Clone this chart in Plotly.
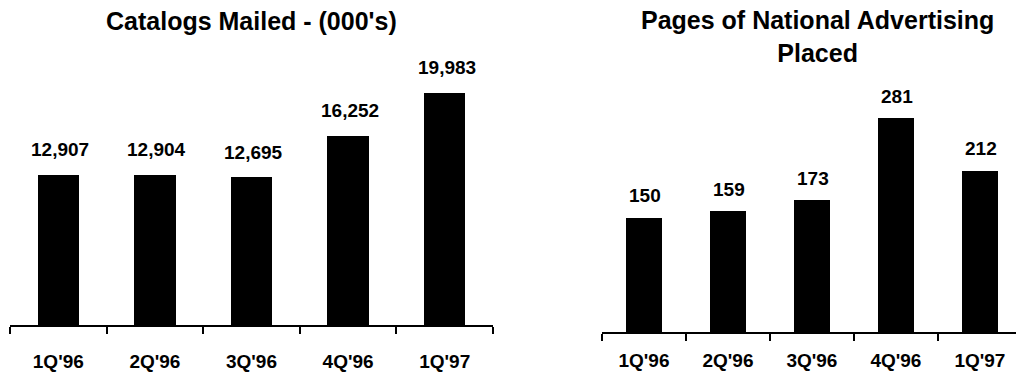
import plotly.graph_objects as go

# Quarterly figures
quarters = ["1Q'96", "2Q'96", "3Q'96", "4Q'96", "1Q'97"]
catalogs_mailed = [12907, 12904, 12695, 16252, 19983]   # thousands
ad_pages = [150, 159, 173, 281, 212]

W, H = 1016, 378
FONT = "Liberation Sans, Arial, sans-serif"
BAR_W = 0.43

fig = go.Figure()

fig.add_trace(go.Bar(x=quarters, y=catalogs_mailed, width=BAR_W,
                     marker=dict(color="black", line=dict(width=0)),
                     xaxis="x", yaxis="y", hoverinfo="skip"))
fig.add_trace(go.Bar(x=quarters, y=ad_pages, width=BAR_W,
                     marker=dict(color="black", line=dict(width=0)),
                     xaxis="x2", yaxis="y2", hoverinfo="skip"))

# Value labels above each bar
annotations = []
for q, v in zip(quarters, catalogs_mailed):
    annotations.append(dict(x=q, y=v, xref="x", yref="y", text=f"{v:,}",
                            showarrow=False, yanchor="middle", yshift=25, xshift=2,
                            font=dict(family=FONT, size=19, color="black", weight="bold")))
for q, v in zip(quarters, ad_pages):
    annotations.append(dict(x=q, y=v, xref="x2", yref="y2", text=f"{v:,}",
                            showarrow=False, yanchor="middle", yshift=22, xshift=1,
                            font=dict(family=FONT, size=19, color="black", weight="bold")))

# Panel titles
annotations.append(dict(x=251 / W, y=(H - 21) / H, xref="paper", yref="paper",
                        text="Catalogs Mailed - (000's)", showarrow=False,
                        xanchor="center", yanchor="middle",
                        font=dict(family=FONT, size=25, color="black", weight="bold")))
annotations.append(dict(x=817 / W, y=(H - 36) / H, xref="paper", yref="paper",
                        text="Pages of National Advertising<br>Placed", showarrow=False,
                        xanchor="center", yanchor="middle",
                        font=dict(family=FONT, size=25, color="black", weight="bold")))

xaxis_style = dict(
    type="category", showline=True, linecolor="black", linewidth=2,
    ticks="outside", tickson="boundaries", ticklen=7, tickwidth=2, tickcolor="black",
    showgrid=False, zeroline=False,
    tickfont=dict(family=FONT, size=19, color="black", weight="bold"),
)
yaxis_style = dict(visible=False, showgrid=False, zeroline=False)

fig.update_layout(
    width=W, height=H,
    margin=dict(l=0, r=0, t=0, b=0),
    paper_bgcolor="white", plot_bgcolor="white",
    showlegend=False,
    bargap=0,
    xaxis=dict(domain=[10 / W, 493 / W], range=[-0.5, 4.5], anchor="y",
               ticklabelstandoff=18, **xaxis_style),
    yaxis=dict(domain=[(H - 325) / H, 1], range=[0, 27945], anchor="x", **yaxis_style),
    xaxis2=dict(domain=[602 / W, 1.0], range=[-0.5, 4.43], anchor="y2",
                ticklabelstandoff=10, **xaxis_style),
    yaxis2=dict(domain=[(H - 332) / H, 1], range=[0, 436.3], anchor="x2", **yaxis_style),
    annotations=annotations,
)

fig.write_html("out.html")
